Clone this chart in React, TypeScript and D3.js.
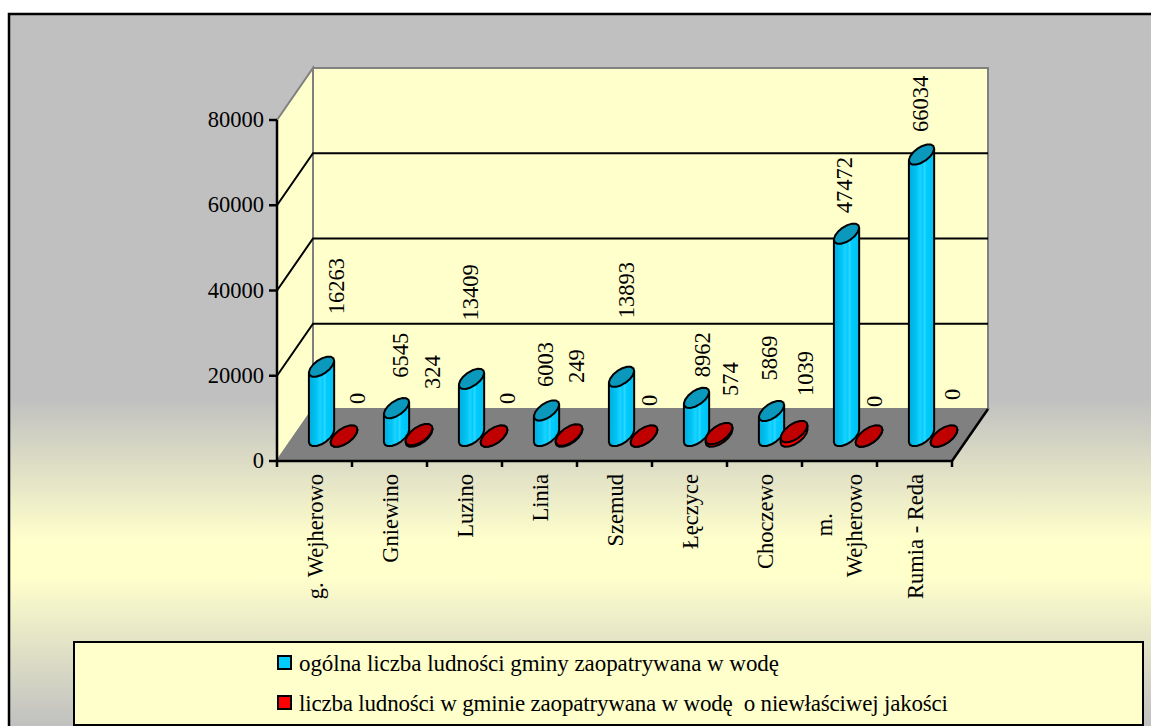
import React from 'react';
import * as d3 from 'd3';

const categories = ['g. Wejherowo', 'Gniewino', 'Luzino', 'Linia', 'Szemud', 'Łęczyce', 'Choczewo', 'm. Wejherowo', 'Rumia - Reda'];
const totalServed = [16263, 6545, 13409, 6003, 13893, 8962, 5869, 47472, 66034];
const poorQuality = [0, 324, 0, 249, 0, 574, 1039, 0, 0];
const yTicks = [0, 20000, 40000, 60000, 80000];
const seriesNames = ['ogólna liczba ludności gminy zaopatrywana w wodę', 'liczba ludności w gminie zaopatrywana w wodę  o niewłaściwej jakości'];

// hand placed data labels, the original chart has them dragged around
const blueLabelDx = [15, 4, -1, -0.5, 5.5, 6.5, -2, -2, -1];
const blueLabelGap = [42, 20, 48, 13, 48, 10, 20, 10, 12];
const redLabelDx = [14, 14, 14, 8, 6, 12, 12, 6, 9];
const redLabelBottom = [404, 389, 404, 383, 406, 396, 396, 407, 400];

const serif = "'Liberation Serif', 'Times New Roman', serif";
const depth = { x: 36, y: -52 };
const floorMid = 0.48;

const x = d3.scaleBand<string>().domain(categories).range([277, 952]);
const seriesX = d3.scaleBand<string>().domain(['total', 'poor']).range([16, 61]);
const y = d3.scaleLinear().domain([0, 80000]).range([461, 120]);

// slanted ellipse of the 3D cylinders
const A = 15.5;
const B = 7.6;
const tilt = (-35 * Math.PI) / 180;
const ellipsePoint = (cx: number, cy: number, a: number, b: number, t: number): [number, number] => [
  cx + a * Math.cos(t) * Math.cos(tilt) - b * Math.sin(t) * Math.sin(tilt),
  cy + a * Math.cos(t) * Math.sin(tilt) + b * Math.sin(t) * Math.cos(tilt),
];
const line = d3.line();

function Cylinder({ cx, cy, h, a, b, side, cap }: { cx: number; cy: number; h: number; a: number; b: number; side: string; cap: string }) {
  const top = cy - h;
  const t0 = Math.atan2(-b * Math.sin(tilt), a * Math.cos(tilt));
  const lower = d3.range(0, 9).map(i => ellipsePoint(cx, cy, a, b, t0 + (i * Math.PI) / 8));
  const upperStart = ellipsePoint(cx, top, a, b, t0 + Math.PI);
  const upperEnd = ellipsePoint(cx, top, a, b, t0);
  const body = line([upperEnd, ...lower, upperStart]) + 'Z';
  const capPath = line(d3.range(0, 16).map(i => ellipsePoint(cx, top, a, b, (i * 2 * Math.PI) / 16))) + 'Z';
  return (
    <g stroke="#000" strokeWidth={2} strokeLinejoin="round">
      <path d={body} fill={side} />
      <path d={capPath} fill={cap} />
    </g>
  );
}

export default function App() {
  const x0 = x.range()[0];
  const x1 = x.range()[1];
  const y0 = y(0);
  const floorY = y0 + depth.y * floorMid;
  const floorX = depth.x * floorMid;
  const backX0 = x0 + depth.x;
  const backX1 = x1 + depth.x;

  return (
    <svg width={1151} height={726} style={{ position: 'absolute', left: 0, top: 0 }} fontFamily={serif}>
      <defs>
        <linearGradient id="bg" gradientUnits="userSpaceOnUse" x1={0} y1={14} x2={0} y2={726}>
          <stop offset="0.54" stopColor="#c0c0c0" />
          <stop offset="0.74" stopColor="#ffffcc" />
          <stop offset="0.79" stopColor="#ffffcc" />
          <stop offset="1" stopColor="#c0c0c0" />
        </linearGradient>
        <linearGradient id="blueSide" x1="0" x2="1" y1="0" y2="0">
          <stop offset="0" stopColor="#00acdc" />
          <stop offset="0.3" stopColor="#00c4f5" />
          <stop offset="0.45" stopColor="#1cd2ff" />
          <stop offset="0.55" stopColor="#00ccff" />
          <stop offset="0.62" stopColor="#30d6ff" />
          <stop offset="0.7" stopColor="#00ccff" />
          <stop offset="1" stopColor="#00c0f0" />
        </linearGradient>
      </defs>

      <rect x={9} y={14} width={1200} height={800} fill="url(#bg)" stroke="#000" strokeWidth={2.5} />

      {/* walls and floor */}
      <g stroke="#808080" strokeWidth={2}>
        <rect x={backX0} y={y(80000) + depth.y} width={x1 - x0} height={y0 - y(80000)} fill="#ffffcc" />
        <path d={line([[x0, y(80000)], [backX0, y(80000) + depth.y], [backX0, y0 + depth.y], [x0, y0]]) + 'Z'} fill="#ffffcc" />
        <path d={line([[x0, y0], [x1, y0], [backX1, y0 + depth.y], [backX0, y0 + depth.y]]) + 'Z'} fill="#808080" />
      </g>

      {/* gridlines */}
      <g stroke="#000" strokeWidth={2} fill="none">
        {yTicks.slice(1, 4).map(t => (
          <path key={t} d={line([[x0, y(t)], [backX0, y(t) + depth.y], [backX1, y(t) + depth.y]]) ?? ''} />
        ))}
      </g>

      {/* axes */}
      <g stroke="#000" strokeWidth={2.5} fill="none">
        <path d={line([[x0, y(80000)], [x0, y0], [x1, y0], [backX1, y0 + depth.y]]) ?? ''} />
        {yTicks.map(t => <line key={t} x1={x0 - 8} x2={x0} y1={y(t)} y2={y(t)} />)}
        {categories.map(c => <line key={c} x1={x(c)} x2={x(c)} y1={y0} y2={y0 + 6} />)}
        <line x1={x1} x2={x1} y1={y0} y2={y0 + 6} />
      </g>
      <g fontSize={22.5} fill="#000" textAnchor="end">
        {yTicks.map(t => <text key={t} x={x0 - 13} y={y(t) + 7}>{t}</text>)}
      </g>

      {/* cylinders */}
      {categories.map((c, i) => {
        const gx = (x(c) as number) + floorX;
        const blueX = gx + (seriesX('total') as number) + seriesX.bandwidth() / 2;
        const redX = gx + (seriesX('poor') as number) + seriesX.bandwidth() / 2;
        const blueH = y0 - y(totalServed[i]);
        const redH = y0 - y(poorQuality[i]);
        return (
          <g key={c}>
            <Cylinder cx={blueX} cy={floorY} h={blueH} a={A * 0.94} b={B * 0.94} side="url(#blueSide)" cap="#0a98bc" />
            <Cylinder cx={redX} cy={floorY} h={redH} a={A} b={B} side="#ff0000" cap="#c00000" />
          </g>
        );
      })}

      {/* data labels */}
      <g fontSize={22.5} fill="#000">
        {categories.map((c, i) => {
          const gx = (x(c) as number) + floorX;
          const blueX = gx + (seriesX('total') as number) + seriesX.bandwidth() / 2 + blueLabelDx[i];
          const redX = gx + (seriesX('poor') as number) + seriesX.bandwidth() / 2 + redLabelDx[i];
          const blueBottom = floorY - (y0 - y(totalServed[i])) - 10.5 - blueLabelGap[i];
          return (
            <g key={c}>
              <text transform={`translate(${blueX + 7},${blueBottom}) rotate(-90)`}>{totalServed[i]}</text>
              <text transform={`translate(${redX + 7},${redLabelBottom[i]}) rotate(-90)`}>{poorQuality[i]}</text>
            </g>
          );
        })}
      </g>

      {/* category labels */}
      <g fontSize={22.5} fill="#000" textAnchor="end">
        {categories.map(c => {
          const cx = (x(c) as number) + x.bandwidth() / 2;
          const words = c === 'm. Wejherowo' ? ['m.', 'Wejherowo'] : [c];
          return words.map((w, j) => (
            <text key={w} transform={`translate(${cx + (words.length > 1 ? (j === 0 ? -7.5 : 22.5) : 8)},${words.length > 1 && j === 0 ? 513 : 474}) rotate(-90)`}>{w}</text>
          ));
        })}
      </g>

      {/* legend */}
      <rect x={74} y={642} width={1069} height={83} fill="#ffffcc" stroke="#000" strokeWidth={2} />
      <g stroke="#000" strokeWidth={2}>
        <rect x={278} y={656} width={13} height={13} fill="#00ccff" />
        <rect x={278} y={696} width={13} height={13} fill="#ff0000" />
      </g>
      <g fontSize={23} fill="#000">
        <text x={299} y={671} textLength={480} xmlSpace="preserve">{seriesNames[0]}</text>
        <text x={299} y={711} textLength={649} xmlSpace="preserve">{seriesNames[1]}</text>
      </g>
    </svg>
  );
}
